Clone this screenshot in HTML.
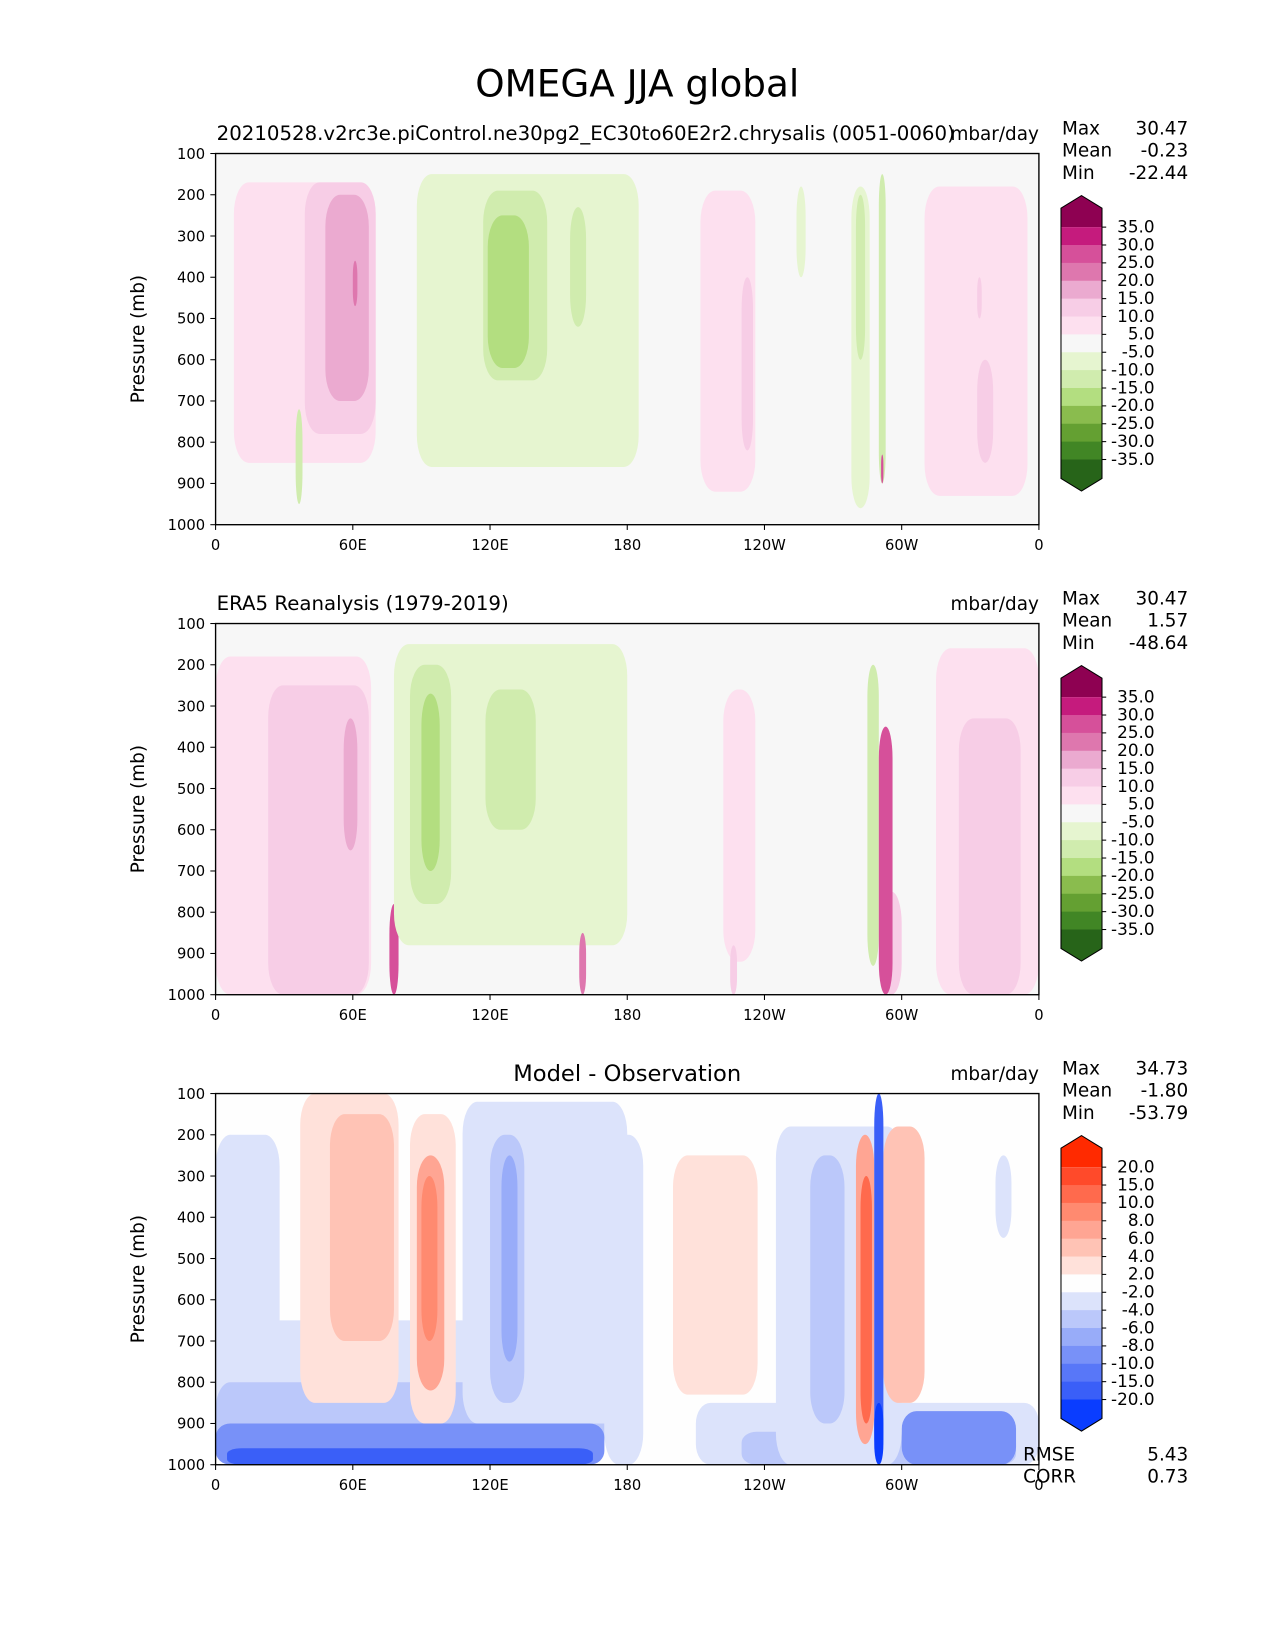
<!DOCTYPE html>
<html><head><meta charset="utf-8"><style>
html,body{margin:0;padding:0;background:#fff;overflow:hidden;width:1275px;height:1650px;}
svg{display:block;}
svg text{font-family:"DejaVu Sans","Liberation Sans",sans-serif;fill:#000;}
</style></head><body>
<svg id="fig" width="1275" height="1650" viewBox="0 0 1212.5 1569.2" xmlns="http://www.w3.org/2000/svg">
<rect width="1212.5" height="1569.2" fill="#fff"/>
<text x="606" y="92" font-size="35.5" text-anchor="middle">OMEGA JJA global</text>
</svg>
<script>
// ---- data ----
const lonTicks=[0,60,120,180,240,300,360];
const lonTickLabels=["0","60E","120E","180","120W","60W","0"];
const presTicks=[100,200,300,400,500,600,700,800,900,1000];
const piygLevels=[35,30,25,20,15,10,5,-5,-10,-15,-20,-25,-30,-35];
const piygLabels=["35.0","30.0","25.0","20.0","15.0","10.0","5.0","-5.0","-10.0","-15.0","-20.0","-25.0","-30.0","-35.0"];
const piygColors=["#8e0152","#c51b7d","#d6509a","#de77ae","#ebaad0","#f7cde6","#fde0ef","#f7f7f7","#e6f5d0","#d0ecae","#b3de80","#8abc4e","#64a032","#418625","#276419"];
const diffLevels=[20,15,10,8,6,4,2,-2,-4,-6,-8,-10,-15,-20];
const diffLabels=["20.0","15.0","10.0","8.0","6.0","4.0","2.0","-2.0","-4.0","-6.0","-8.0","-10.0","-15.0","-20.0"];
const diffColors=["#ff2a00","#ff4a2a","#ff6a4d","#ff8a70","#ffa593","#ffc3b5","#ffe1da","#fefefe","#dce3fb","#bbc8fa","#98acf9","#7891f8","#5877f8","#3a5ff8","#0a3dff"];
// blobs: [lon0, lon1, p0, p1, value]
const modelBlobs=[
[8,70,170,850,7],[39,70,170,780,12],[48,67,200,700,17],[60,62,360,470,22],
[88,185,150,860,-7],[117,145,190,650,-12],[155,162,230,520,-12],[119,137,250,620,-17],
[212,236,190,920,7],[230,235,400,820,12],
[310,355,180,930,7],[333,340,600,850,12],[333,335,400,500,12],
[278,286,180,960,-7],[280,284,200,600,-12],[290,293,150,900,-12],[291,292,830,900,28],
[254,258,180,400,-7],[35,38,720,950,-12]];
const eraBlobs=[
[0,68,180,1000,7],[23,67,250,1000,12],[56,62,330,650,17],[76,80,780,1000,30],
[78,180,150,880,-7],[85,103,200,780,-12],[90,98,270,700,-17],[118,140,260,600,-12],
[222,236,260,920,7],[285,290,200,930,-12],[291,300,750,1000,12],[290,296,350,1000,30],
[315,360,160,1000,7],[325,352,330,1000,12],[159,162,850,1000,22],[225,228,880,1000,12]];
const diffBlobs=[
[0,28,200,800,-3],[0,170,650,1000,-3],[0,170,800,1000,-5],[0,170,900,1000,-9],[5,165,960,1000,-17],
[37,80,100,850,3],[50,78,150,700,5],[85,105,150,900,3],[88,100,250,820,7],[90,97,300,700,9],
[108,180,120,900,-3],[120,135,200,850,-5],[125,132,250,750,-7],
[170,187,200,1000,-3],[200,237,250,830,3],
[210,360,850,1000,-3],[230,350,920,1000,-5],[300,350,870,1000,-9],
[245,300,180,1000,-3],[260,275,250,900,-5],
[280,288,200,950,7],[282,287,300,900,12],[292,310,180,850,5],[288,292,100,1000,-15],[288,292,850,1000,-25],
[341,348,250,450,-3]];
// ---- layout ----
const svg=document.getElementById('fig');
const NS='http://www.w3.org/2000/svg';
const X0=205,X1=988,H=353;
function el(tag,attrs,parent){const e=document.createElementNS(NS,tag);for(const k in attrs)e.setAttribute(k,attrs[k]);(parent||svg).appendChild(e);return e;}
function xs(lon){return X0+(lon/360)*(X1-X0);}
function ys(p,top){return top+(p-100)/900*H;}
function colorFor(v,levels,colors){
  if(v>levels[0])return colors[0];
  for(let i=0;i<levels.length-1;i++){if(v<=levels[i]&&v>levels[i+1])return colors[i+1];}
  return colors[colors.length-1];
}
function panel(top,blobs,levels,colors,labels,bg,title,titleCenter,stats,name){
  const g=el('g',{});
  
  
  const clip=el('clipPath',{id:'c'+top},g);
  el('rect',{x:X0,y:top,width:X1-X0,height:H},clip);
  el('rect',{x:X0,y:top,width:X1-X0,height:H,fill:bg},g);
  const cg=el('g',{'clip-path':'url(#c'+top+')'},g);
  blobs.forEach(b=>{
    const x0=xs(b[0]),x1=xs(b[1]),y0=ys(b[2],top),y1=ys(b[3],top);
    const r=el('rect',{x:x0,y:y0,width:x1-x0,height:y1-y0,rx:Math.min((x1-x0)/2,14),ry:Math.min((y1-y0)/3,30),fill:colorFor(b[4],levels,colors)},cg);
    
    
  });
  el('rect',{x:X0,y:top,width:X1-X0,height:H,fill:'none',stroke:'#000','stroke-width':1.3},g);
  lonTicks.forEach((l,i)=>{
    const x=xs(l);
    el('line',{x1:x,x2:x,y1:top+H,y2:top+H+5,stroke:'#000'},g);
    const t=el('text',{x:x,y:top+H+24,'font-size':14,'text-anchor':'middle'},g);t.textContent=lonTickLabels[i];
    
    
  });
  presTicks.forEach(p=>{
    const y=ys(p,top);
    el('line',{x1:X0-5,x2:X0,y1:y,y2:y,stroke:'#000'},g);
    const t=el('text',{x:X0-10,y:y+5,'font-size':14,'text-anchor':'end'},g);t.textContent=p;
    
    
  });
  const yl=el('text',{x:0,y:0,'font-size':17.5,'text-anchor':'middle',transform:'translate(137,'+(top+H/2)+') rotate(-90)'},g);yl.textContent='Pressure (mb)';
  
  
  const tt=el('text',titleCenter?{x:(X0+X1)/2,y:top-12,'font-size':21.5,'text-anchor':'middle'}:{x:X0+1,y:top-13,'font-size':18.8},g);tt.textContent=title;
  
  
  const un=el('text',{x:X1,y:top-13,'font-size':17.5,'text-anchor':'end'},g);un.textContent='mbar/day';
  
  
  ['Max','Mean','Min'].forEach((s,i)=>{
    const a=el('text',{x:1010,y:top-18+i*21,'font-size':17.5},g);a.textContent=s;
    
    
    const b=el('text',{x:1130,y:top-18+i*21,'font-size':17.5,'text-anchor':'end'},g);b.textContent=stats[i];
    
    
  });
  // colorbar
  const cb=el('g',{},g);
  
  
  const cx0=1009,cx1=1048,ct=top+70,step=17;
  const n=levels.length;
  el('path',{d:`M${cx0} ${ct} L${cx0} ${ct-18} L${(cx0+cx1)/2} ${ct-30} L${cx1} ${ct-18} L${cx1} ${ct} Z`,fill:colors[0]},cb);
  for(let i=0;i<n-1;i++){el('rect',{x:cx0,y:ct+i*step,width:cx1-cx0,height:step+0.5,fill:colors[i+1]},cb);}
  const cbot=ct+(n-1)*step;
  el('path',{d:`M${cx0} ${cbot} L${cx0} ${cbot+18} L${(cx0+cx1)/2} ${cbot+30} L${cx1} ${cbot+18} L${cx1} ${cbot} Z`,fill:colors[colors.length-1]},cb);
  el('path',{d:`M${cx0} ${ct-18} L${(cx0+cx1)/2} ${ct-30} L${cx1} ${ct-18} L${cx1} ${cbot+18} L${(cx0+cx1)/2} ${cbot+30} L${cx0} ${cbot+18} Z`,fill:'none',stroke:'#000','stroke-width':1},cb);
  labels.forEach((lb,i)=>{
    const y=ct+i*step;
    el('line',{x1:cx1,x2:cx1+4,y1:y,y2:y,stroke:'#000'},cb);
    const t=el('text',{x:1098,y:y+5,'font-size':16,'text-anchor':'end'},cb);t.textContent=lb;
    
    
  });
}
panel(146,modelBlobs,piygLevels,piygColors,piygLabels,'#f7f7f7','20210528.v2rc3e.piControl.ne30pg2_EC30to60E2r2.chrysalis (0051-0060)',false,['30.47','-0.23','-22.44'],'model-panel');
panel(593,eraBlobs,piygLevels,piygColors,piygLabels,'#f7f7f7','ERA5 Reanalysis (1979-2019)',false,['30.47','1.57','-48.64'],'obs-panel');
panel(1040,diffBlobs,diffLevels,diffColors,diffLabels,'#fefefe','Model - Observation',true,['34.73','-1.80','-53.79'],'diff-panel');
[['RMSE','5.43',1389],['CORR','0.73',1410]].forEach(r=>{
  const a=el('text',{x:973,y:r[2],'font-size':17.5});a.textContent=r[0];
  
  
  const b=el('text',{x:1130,y:r[2],'font-size':17.5,'text-anchor':'end'});b.textContent=r[1];
  
  
});
</script>
</body></html>
